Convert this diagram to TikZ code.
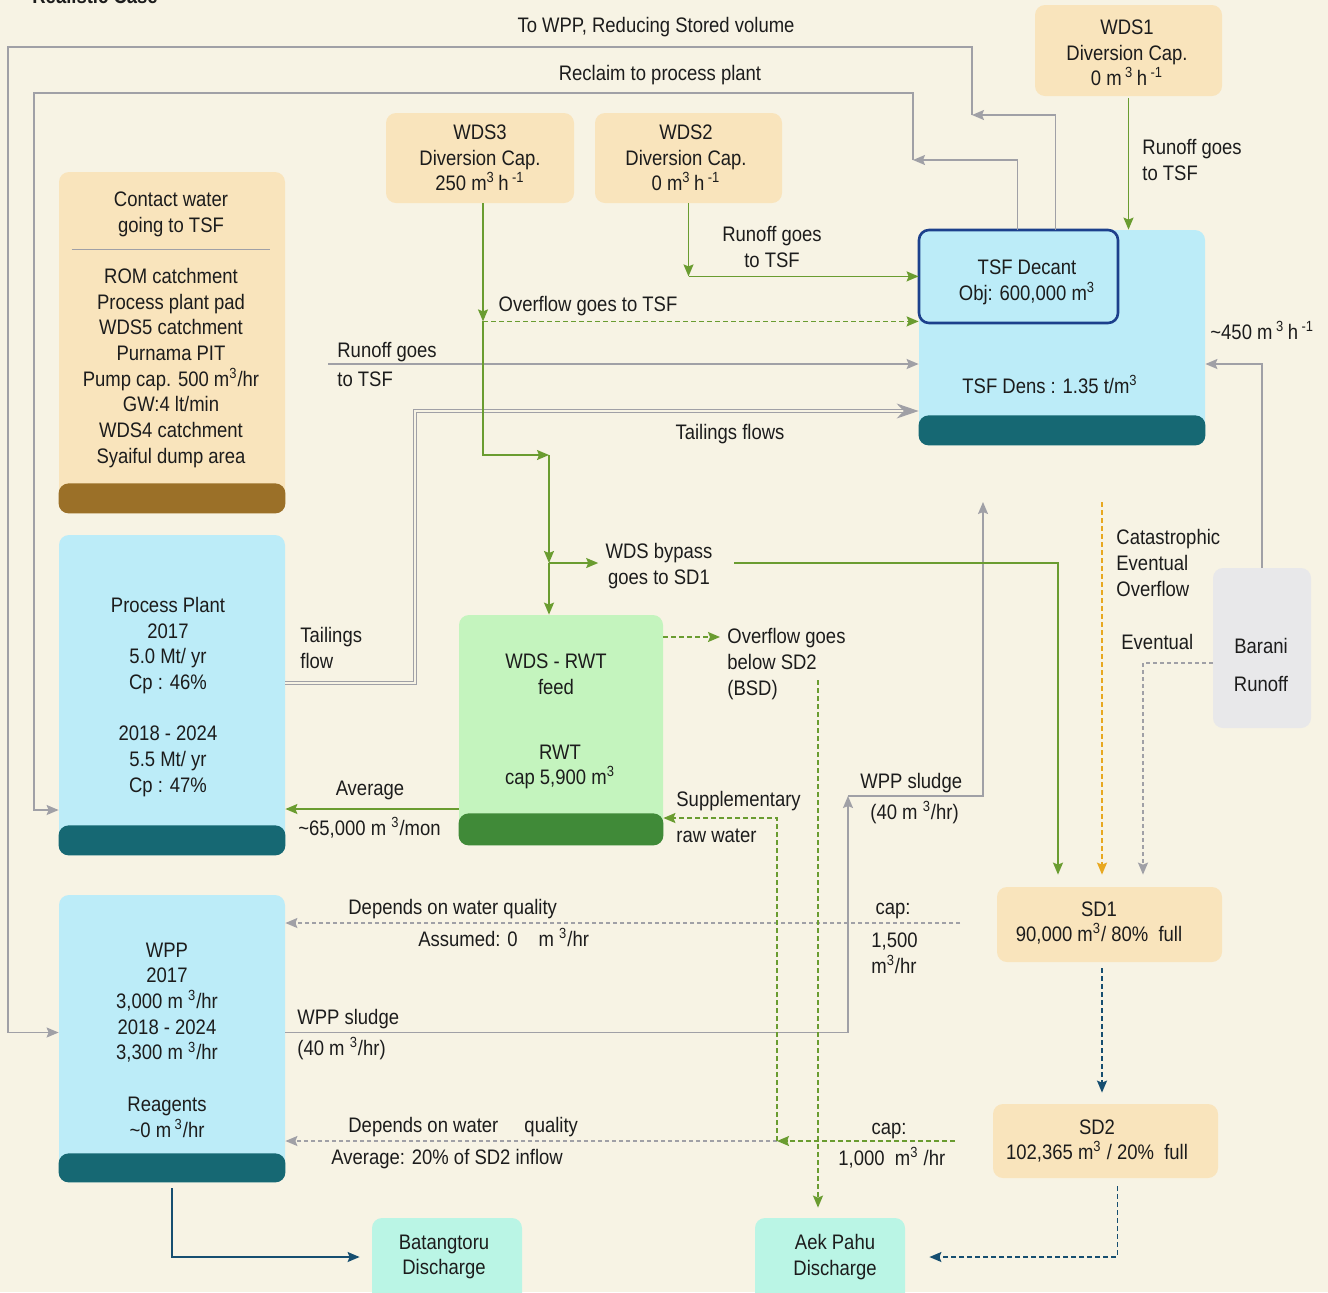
\documentclass[tikz,border=0pt]{standalone}
\usepackage{fontspec}
\setmainfont{Liberation Sans}[FakeStretch=0.88]
\usepackage{xcolor}
\usetikzlibrary{positioning, arrows.meta, calc}
\definecolor{paper}{RGB}{247,243,228}
\definecolor{peach}{RGB}{249,228,188}
\definecolor{skyfill}{RGB}{188,236,248}
\definecolor{tealband}{RGB}{22,104,115}
\definecolor{brownband}{RGB}{155,112,40}
\definecolor{leaffill}{RGB}{196,244,190}
\definecolor{leafband}{RGB}{64,138,56}
\definecolor{cloudfill}{RGB}{232,232,234}
\definecolor{mintfill}{RGB}{186,245,229}
\definecolor{pipegray}{RGB}{160,160,166}
\definecolor{pipegreen}{RGB}{106,156,48}
\definecolor{pipeorange}{RGB}{232,168,32}
\definecolor{pipenavy}{RGB}{22,78,112}
\definecolor{decantblue}{RGB}{28,64,140}
\definecolor{ink}{RGB}{28,28,28}

\tikzset{
    txt/.style={font=\fontsize{10.5}{12.85}\selectfont, text=ink, inner sep=0pt, align=center},
    txtl/.style={txt, align=left, anchor=west},
    oneline/.style={text height=7.6pt, text depth=2.2pt},
    tank/.style={rounded corners=5pt, inner sep=0pt},
    bandfill/.style={rounded corners=5pt},
    flowhead/.style={-{Stealth[length=6pt, width=5pt, inset=1pt]}},
    graypipe/.style={draw=pipegray, line width=0.75pt, flowhead},
    graydash/.style={graypipe, dash pattern=on 2pt off 1.5pt},
    greenpipe/.style={draw=pipegreen, line width=0.75pt, flowhead},
    greendash/.style={greenpipe, dash pattern=on 2.5pt off 1.5pt},
    orangedash/.style={draw=pipeorange, line width=0.75pt, flowhead, dash pattern=on 2.5pt off 1.5pt},
    navypipe/.style={draw=pipenavy, line width=0.75pt, flowhead},
    navydash/.style={navypipe, dash pattern=on 2.5pt off 1.5pt},
    tailpipe/.style={draw=pipegray, line width=0.6pt, double=paper, double distance=1pt, -{Stealth[length=11pt, width=7.5pt]}},
}

\begin{document}
\begin{tikzpicture}[x=0.5pt, y=-0.5pt]
        \useasboundingbox (0,0) rectangle (1328,1292);
        \fill[paper] (0,0) rectangle (1328,1292);
        \node[font=\bfseries\fontsize{10.5}{12.85}\selectfont, text=ink, anchor=base west, inner sep=0pt] (casetitle) at (32,3) {Realistic Case};

        % tanks
        \node[tank, fill=peach, minimum width=93.5pt, minimum height=45.5pt] (wdsone) at (1128.5,50.5) {};
        \node[tank, fill=peach, minimum width=94pt, minimum height=45pt] (wdsthree) at (480,158) {};
        \node[tank, fill=peach, minimum width=93.5pt, minimum height=45pt] (wdstwo) at (688.5,158) {};
        \node[tank, fill=peach, minimum width=113pt, minimum height=170.5pt] (contact) at (172,342.5) {};
        \fill[brownband, bandfill] ($(contact.south west)+(0,-30)$) rectangle (contact.south east);
        \node[tank, fill=skyfill, minimum width=143pt, minimum height=107.5pt] (tsf) at (1062,337.5) {};
        \fill[tealband, bandfill] ($(tsf.south west)+(0,-30)$) rectangle (tsf.south east);
        \node[tank, fill=skyfill, draw=decantblue, line width=1.3pt, minimum width=99.5pt, minimum height=46.5pt] (decant) at (1018.5,276.5) {};
        \node[tank, fill=skyfill, minimum width=113pt, minimum height=160pt] (plant) at (172,695) {};
        \fill[tealband, bandfill] ($(plant.south west)+(0,-30)$) rectangle (plant.south east);
        \node[tank, fill=leaffill, minimum width=102pt, minimum height=115pt] (rwt) at (561,730) {};
        \fill[leafband, bandfill] ($(rwt.south west)+(0,-32)$) rectangle (rwt.south east);
        \node[tank, fill=skyfill, minimum width=113pt, minimum height=143.5pt] (wpp) at (172,1038.5) {};
        \fill[tealband, bandfill] ($(wpp.south west)+(0,-29)$) rectangle (wpp.south east);
        \node[tank, fill=cloudfill, minimum width=49pt, minimum height=80pt] (barani) at (1262,648) {};
        \node[tank, fill=peach, minimum width=112.5pt, minimum height=37.5pt] (sdone) at (1109.5,924.5) {};
        \node[tank, fill=peach, minimum width=112.5pt, minimum height=37pt] (sdtwo) at (1105.5,1141) {};
        \node[tank, fill=mintfill, minimum width=75pt, minimum height=45pt] (batang) at (447,1263) {};
        \node[tank, fill=mintfill, minimum width=75pt, minimum height=45pt] (aek) at (830,1263) {};

        % tank texts
        \node[txt] (wdsonetxt) at (1127,53) {WDS1\\Diversion Cap.\\0 m\,\textsuperscript{3}\,h\,\textsuperscript{-1}};
        \node[txt] (wdsthreetxt) at (480,158) {WDS3\\Diversion Cap.\\250 m\textsuperscript{3}\,h\,\textsuperscript{-1}};
        \node[txt] (wdstwotxt) at (686,158) {WDS2\\Diversion Cap.\\0 m\textsuperscript{3}\,h\,\textsuperscript{-1}};
        \node[txt] (contacthead) at (171,214) {Contact water\\going to TSF};
        \draw[pipegray, line width=0.6pt] ($(contact.north west)+(13,78)$) -- ($(contact.north east)+(-15,78)$);
        \node[txt] (contactlist) at (171,368) {ROM catchment\\Process plant pad\\WDS5 catchment\\Purnama PIT\\Pump cap. 500 m\textsuperscript{3}/hr\\GW:4 lt/min\\WDS4 catchment\\Syaiful dump area};
        \node[txt] (decanttxt) at (1027,282) {TSF Decant\\Obj: 600,000 m\textsuperscript{3}};
        \node[txt, oneline] (denstxt) at (1050,388) {TSF Dens : 1.35 t/m\textsuperscript{3}};
        \node[txt] (planttxt) at (168,697) {Process Plant\\2017\\5.0 Mt/ yr\\Cp : 46\%\\[12.85pt]2018 - 2024\\5.5 Mt/ yr\\Cp : 47\%};
        \node[txt] (rwtfeed) at (556,674) {WDS - RWT\\feed};
        \node[txt] (rwtcap) at (560,767) {RWT\\cap 5,900 m\textsuperscript{3}};
        \node[txt] (wpptxt) at (167,1040) {WPP\\2017\\3,000 m \textsuperscript{3}/hr\\2018 - 2024\\3,300 m \textsuperscript{3}/hr\\[12.85pt]Reagents\\\textasciitilde0 m\,\textsuperscript{3}/hr};
        \node[txt] (baranitxt) at (1261,665) {Barani\\[6.6pt]Runoff};
        \node[txt] (sdonetxt) at (1099,923) {SD1\\90,000 m\textsuperscript{3}/ 80\%\ \ full};
        \node[txt] (sdtwotxt) at (1097,1141) {SD2\\102,365 m\textsuperscript{3} / 20\%\ \ full};
        \node[txt] (batangtxt) at (444,1257) {Batangtoru\\Discharge};
        \node[txt] (aektxt) at (835,1257) {Aek Pahu\\Discharge};

        % flow labels
        \node[txt, oneline] (lbltowpp) at (656,27) {To WPP, Reducing Stored volume};
        \node[txt, oneline] (lblreclaim) at (660,75) {Reclaim to process plant};
        \node[txtl] (lblrunone) at (1142,160) {Runoff goes\\to TSF};
        \node[txt] (lblruntwo) at (772,247) {Runoff goes\\to TSF};
        \node[txt, oneline] (lbloverflow) at (588,306) {Overflow goes to TSF};
        \node[txtl, oneline] (lblrunoff) at (337,352) {Runoff goes};
        \node[txtl, oneline] (lblrunofftsf) at (337,381) {to TSF};
        \node[txtl, oneline] (lblbarani) at (1210,334) {\textasciitilde450 m\,\textsuperscript{3}\,h\,\textsuperscript{-1}};
        \node[txt, oneline] (lbltailings) at (730,434) {Tailings flows};
        \node[txtl] (lblcatas) at (1116,563) {Catastrophic\\Eventual\\Overflow};
        \node[txtl, oneline] (lbleventual) at (1121,644) {Eventual};
        \node[txt] (bypasslbl) at (659,566) {WDS bypass\\goes to SD1};
        \node[txtl] (lbltailflow) at (300,648) {Tailings\\flow};
        \node[txtl] (bsdlbl) at (727,664) {Overflow goes\\below SD2\\(BSD)};
        \node[txtl, oneline] (lblsludgeup) at (860,783) {WPP sludge};
        \node[txtl, oneline] (lblsludgeupq) at (870,814) {(40 m \textsuperscript{3}/hr)};
        \node[txtl, oneline] (lblsupp) at (676,801) {Supplementary};
        \node[txtl, oneline] (lblraw) at (676,837) {raw water};
        \node[txt, oneline] (lblaverage) at (370,790) {Average};
        \node[txtl, oneline] (lblaverageq) at (298,830) {\textasciitilde65,000 m \textsuperscript{3}/mon};
        \node[txtl, oneline] (lbldepone) at (348,909) {Depends on water quality};
        \node[txtl, oneline] (lblassumed) at (418,941) {Assumed: 0\quad m \textsuperscript{3}/hr};
        \node[txt, oneline] (lblcapone) at (893,909) {cap:};
        \node[txtl] (lblcaponeq) at (871,953) {1,500\\m\textsuperscript{3}/hr};
        \node[txtl, oneline] (lblsludge) at (297,1019) {WPP sludge};
        \node[txtl, oneline] (lblsludgeq) at (297,1050) {(40 m \textsuperscript{3}/hr)};
        \node[txtl, oneline] (lbldeptwo) at (348,1127) {Depends on water\quad\ quality};
        \node[txtl, oneline] (lblavgsd) at (331,1159) {Average: 20\% of SD2 inflow};
        \node[txt, oneline] (lblcaptwo) at (889,1129) {cap:};
        \node[txtl, oneline] (lblcaptwoq) at (838,1160) {1,000\ \ m\textsuperscript{3} /hr};

        % junctions and free ends
        \coordinate (wppturn) at (972,115);
        \coordinate (wppbend) at (8,47);
        \coordinate (reclaimturn) at (913,160);
        \coordinate (reclaimbend) at (34,93);
        \coordinate (runoffstart) at (328,364);
        \coordinate (tailbend) at (415,411);
        \coordinate (sludgeturn) at (848,796);
        \coordinate (sludgeend) at (983,502);
        \coordinate (qualstart) at (960,923);
        \coordinate (evbend) at (1143,663);
        \coordinate (catstart) at (1102,502);
        \coordinate (bypassstart) at (734,563);
        \coordinate (bypassbend) at (1058,563);
        \coordinate (feedturn) at (549,455);
        \coordinate (bypassturn) at (549,563);
        \coordinate (bsdtop) at (818,680);
        \coordinate (suppturn) at (777,1141);
        \coordinate (sdtwoout) at (955,1141);

        % gray returns
        \draw[graypipe] ($(tsf.north west)+(137,0)$) |- (wppturn);
        \draw[graypipe] (wppturn) |- (wppbend) |- ($(wpp.west)+(0,-6)$);
        \draw[graypipe] ($(tsf.north west)+(99,0)$) |- (reclaimturn);
        \draw[graypipe] (reclaimturn) |- (reclaimbend) |- ($(plant.west)+(0,115)$);
        \draw[graypipe] (runoffstart) -- (runoffstart -| tsf.west);
        \draw[tailpipe] ($(plant.east)+(0,-12)$) -| (tailbend) -- (tailbend -| tsf.west);
        \draw[graypipe] (barani.north) |- (tsf.east |- runoffstart);
        \draw[graypipe] ($(wpp.east)+(0,-6)$) -| (sludgeturn);
        \draw[graypipe] (sludgeturn) -| (sludgeend);
        \draw[graydash] (qualstart) -- (qualstart -| wpp.east);
        \draw[graydash, shorten >=6pt] (barani.west |- evbend) -- (evbend) -- (evbend |- sdone.north);
        \draw[graydash] (suppturn) -- (suppturn -| wpp.east);
        \draw[orangedash, shorten >=6pt] (catstart) -- (catstart |- sdone.north);

        % green runoff and overflow
        \draw[greenpipe, shorten <=1pt] (wdsone.south) -- (wdsone.south |- tsf.north);
        \coordinate (wdstwoturn) at ($(wdstwo.south)+(0,73)$);
        \draw[greenpipe] (wdstwo.south) -- (wdstwoturn);
        \draw[greenpipe] (wdstwoturn) -- (wdstwoturn -| tsf.west);
        \coordinate (ovfturn) at ($(wdsthree.south)+(3,118)$);
        \draw[greenpipe] ($(wdsthree.south)+(3,0)$) -- (ovfturn);
        \draw[greendash] (ovfturn) -- (ovfturn -| tsf.west);
        \draw[greenpipe] (ovfturn) |- (feedturn);
        \draw[greenpipe] (feedturn) -- (bypassturn);
        \draw[greenpipe, shorten >=3.5pt] (bypassturn) -- (bypasslbl.west |- bypassturn);
        \draw[greenpipe] (bypassturn) -- (bypassturn |- rwt.north);
        \draw[greenpipe, shorten >=6pt] (bypassstart) -- (bypassbend) -- (bypassbend |- sdone.north);
        \draw[greenpipe] ($(rwt.west)+(0,79)$) coordinate (avgstart) -- (avgstart -| plant.east);
        \draw[greendash, shorten >=3.5pt] ($(rwt.east)+(0,-93)$) coordinate (bsdstart) -- (bsdlbl.west |- bsdstart);
        \draw[greendash, shorten >=5pt] (bsdtop) -- (bsdtop |- aek.north);
        \draw[greendash] (sdtwoout) -- (suppturn);
        \draw[greendash] (suppturn) |- ($(rwt.east)+(0,88)$);

        % discharges
        \draw[navydash, shorten <=3pt, shorten >=5.5pt] (sdone.south -| catstart) -- (sdtwo.north -| catstart);
        \draw[navydash, shorten <=4pt, shorten >=12pt] ($(sdtwo.south)+(12,0)$) |- ($(aek.east)+(0,-6)$);
        \draw[navypipe, shorten <=3pt, shorten >=6pt] (wpp.south) |- ($(batang.west)+(0,-6)$);
\end{tikzpicture}
\end{document}
